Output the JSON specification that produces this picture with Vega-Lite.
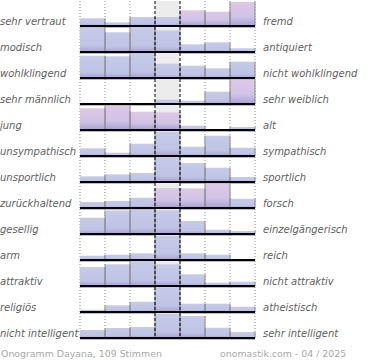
{
  "$schema": "https://vega.github.io/schema/vega-lite/v6.json",
  "padding": 0,
  "background": "white",
  "config": {"view": {"stroke": null}},
  "data": {"values": [
    {"r":1,"c":1,"v":7.7,"f":0,"a":"sehr vertraut","b":"fremd"},{"r":1,"c":2,"v":3.7,"f":0},{"r":1,"c":3,"v":9,"f":0},{"r":1,"c":4,"v":9,"f":0},{"r":1,"c":5,"v":15.7,"f":1},{"r":1,"c":6,"v":14.3,"f":1},{"r":1,"c":7,"v":24,"f":1},
    {"r":2,"c":1,"v":24.3,"f":0,"a":"modisch","b":"antiquiert"},{"r":2,"c":2,"v":19.7,"f":0},{"r":2,"c":3,"v":25,"f":0},{"r":2,"c":4,"v":21.7,"f":0},{"r":2,"c":5,"v":7.7,"f":0},{"r":2,"c":6,"v":9.7,"f":0},{"r":2,"c":7,"v":3.7,"f":0},
    {"r":3,"c":1,"v":22.3,"f":0,"a":"wohlklingend","b":"nicht wohlklingend"},{"r":3,"c":2,"v":21.7,"f":0},{"r":3,"c":3,"v":24.7,"f":0},{"r":3,"c":4,"v":14.3,"f":0},{"r":3,"c":5,"v":12.3,"f":0},{"r":3,"c":6,"v":9.7,"f":0},{"r":3,"c":7,"v":16.3,"f":0},
    {"r":4,"c":1,"v":0,"f":0,"a":"sehr männlich","b":"sehr weiblich"},{"r":4,"c":2,"v":0,"f":0},{"r":4,"c":3,"v":0,"f":0},{"r":4,"c":4,"v":4.3,"f":0},{"r":4,"c":5,"v":3.3,"f":0},{"r":4,"c":6,"v":12.3,"f":0},{"r":4,"c":7,"v":24.3,"f":1},
    {"r":5,"c":1,"v":21.7,"f":1,"a":"\u2005jung","b":"alt"},{"r":5,"c":2,"v":24,"f":1},{"r":5,"c":3,"v":18.3,"f":1},{"r":5,"c":4,"v":17.7,"f":1},{"r":5,"c":5,"v":4.3,"f":0},{"r":5,"c":6,"v":0,"f":0},{"r":5,"c":7,"v":3,"f":0},
    {"r":6,"c":1,"v":7.7,"f":0,"a":"unsympathisch","b":"sympathisch"},{"r":6,"c":2,"v":3.3,"f":0},{"r":6,"c":3,"v":12.3,"f":0},{"r":6,"c":4,"v":24.3,"f":0},{"r":6,"c":5,"v":9.3,"f":0},{"r":6,"c":6,"v":20.3,"f":0},{"r":6,"c":7,"v":8.3,"f":0},
    {"r":7,"c":1,"v":5.7,"f":0,"a":"unsportlich","b":"sportlich"},{"r":7,"c":2,"v":7.7,"f":0},{"r":7,"c":3,"v":9,"f":0},{"r":7,"c":4,"v":25,"f":0},{"r":7,"c":5,"v":19,"f":0},{"r":7,"c":6,"v":14.3,"f":0},{"r":7,"c":7,"v":5,"f":0},
    {"r":8,"c":1,"v":6,"f":0,"a":"zurückhaltend","b":"forsch"},{"r":8,"c":2,"v":7,"f":0},{"r":8,"c":3,"v":10.3,"f":0},{"r":8,"c":4,"v":20,"f":1},{"r":8,"c":5,"v":19.7,"f":1},{"r":8,"c":6,"v":24.3,"f":1},{"r":8,"c":7,"v":9.3,"f":0},
    {"r":9,"c":1,"v":16.3,"f":0,"a":"gesellig","b":"einzelgängerisch"},{"r":9,"c":2,"v":23.5,"f":0},{"r":9,"c":3,"v":24.3,"f":0},{"r":9,"c":4,"v":23.8,"f":0},{"r":9,"c":5,"v":13,"f":0},{"r":9,"c":6,"v":4.3,"f":0},{"r":9,"c":7,"v":3,"f":0},
    {"r":10,"c":1,"v":4.3,"f":0,"a":"arm","b":"reich"},{"r":10,"c":2,"v":5.3,"f":0},{"r":10,"c":3,"v":6.7,"f":0},{"r":10,"c":4,"v":24.3,"f":0},{"r":10,"c":5,"v":6.7,"f":0},{"r":10,"c":6,"v":5.3,"f":0},{"r":10,"c":7,"v":1,"f":0},
    {"r":11,"c":1,"v":19,"f":0,"a":"attraktiv","b":"nicht attraktiv"},{"r":11,"c":2,"v":21.7,"f":0},{"r":11,"c":3,"v":25,"f":0},{"r":11,"c":4,"v":21.7,"f":0},{"r":11,"c":5,"v":11.7,"f":0},{"r":11,"c":6,"v":3.3,"f":0},{"r":11,"c":7,"v":4.3,"f":0},
    {"r":12,"c":1,"v":2.3,"f":0,"a":"religiös","b":"atheistisch"},{"r":12,"c":2,"v":6.7,"f":0},{"r":12,"c":3,"v":10.3,"f":0},{"r":12,"c":4,"v":25,"f":0},{"r":12,"c":5,"v":8.3,"f":0},{"r":12,"c":6,"v":8.3,"f":0},{"r":12,"c":7,"v":5.3,"f":0},
    {"r":13,"c":1,"v":8,"f":0,"a":"nicht intelligent","b":"sehr intelligent"},{"r":13,"c":2,"v":10,"f":0},{"r":13,"c":3,"v":11,"f":0},{"r":13,"c":4,"v":24.3,"f":0},{"r":13,"c":5,"v":22,"f":0},{"r":13,"c":6,"v":10.3,"f":0},{"r":13,"c":7,"v":6,"f":0}
  ]},
  "facet": {"row": {"field": "r", "type": "ordinal", "header": {"labels": false}, "title": null}},
  "spacing": 0,
  "bounds": "flush",
  "spec": {
    "width": 175,
    "height": 26,
    "layer": [
      {
        "transform": [{"filter": "datum.c == 4"}],
        "mark": {"type": "rect", "color": "#ececec"},
        "encoding": {
          "x": {"field": "c", "type": "ordinal", "axis": null, "scale": {"paddingInner": 0, "paddingOuter": 0}},
          "y": {"datum": 25, "type": "quantitative", "axis": null, "scale": {"domain": [-1, 25], "nice": false, "zero": false}},
          "y2": {"datum": -1}
        }
      },
      {
        "transform": [{"filter": "datum.c == 1 || datum.c == 2 || datum.c == 3 || datum.c == 6 || datum.c == 7"}],
        "mark": {"type": "rule", "color": "#8c8c8c", "strokeDash": [1, 2], "strokeWidth": 1},
        "encoding": {"x": {"field": "c", "type": "ordinal", "bandPosition": 0, "axis": null}}
      },
      {
        "transform": [{"filter": "datum.c == 7"}],
        "mark": {"type": "rule", "color": "#8c8c8c", "strokeDash": [1, 2], "strokeWidth": 1},
        "encoding": {"x": {"field": "c", "type": "ordinal", "bandPosition": 1, "axis": null}}
      },
      {
        "transform": [{"filter": "datum.f == 0"}],
        "mark": {"type": "bar", "fill": {"gradient": "linear", "x1": 0, "y1": 0, "x2": 0, "y2": 1, "stops": [{"offset": 0, "color": "#c5cbe9"}, {"offset": 0.75, "color": "#bfc3e5"}, {"offset": 1, "color": "#ab9fd2"}]}},
        "encoding": {
          "x": {"field": "c", "type": "ordinal", "axis": null},
          "y": {"field": "v", "type": "quantitative", "axis": null}
        }
      },
      {
        "transform": [{"filter": "datum.f == 1"}],
        "mark": {"type": "bar", "fill": {"gradient": "linear", "x1": 0, "y1": 0, "x2": 0, "y2": 1, "stops": [{"offset": 0, "color": "#dfc7e7"}, {"offset": 0.6, "color": "#cfc4e6"}, {"offset": 1, "color": "#ab9fd2"}]}},
        "encoding": {
          "x": {"field": "c", "type": "ordinal", "axis": null},
          "y": {"field": "v", "type": "quantitative", "axis": null}
        }
      },
      {
        "mark": {"type": "rule", "color": "#8a8a8a", "strokeWidth": 1},
        "encoding": {
          "x": {"field": "c", "type": "ordinal", "bandPosition": 1, "axis": null},
          "y": {"field": "v", "type": "quantitative", "axis": null},
          "y2": {"datum": 0}
        }
      },
      {
        "transform": [{"filter": "datum.c > 1"}],
        "mark": {"type": "rule", "color": "#8a8a8a", "strokeWidth": 1},
        "encoding": {
          "x": {"field": "c", "type": "ordinal", "bandPosition": 0, "axis": null},
          "y": {"field": "v", "type": "quantitative", "axis": null},
          "y2": {"datum": 0}
        }
      },
      {
        "transform": [{"filter": "datum.c == 4"}],
        "mark": {"type": "rule", "color": "#000000", "strokeDash": [3, 2], "strokeWidth": 1},
        "encoding": {"x": {"field": "c", "type": "ordinal", "bandPosition": 0, "axis": null}}
      },
      {
        "transform": [{"filter": "datum.c == 4"}],
        "mark": {"type": "rule", "color": "#000000", "strokeDash": [3, 2], "strokeWidth": 1},
        "encoding": {"x": {"field": "c", "type": "ordinal", "bandPosition": 1, "axis": null}}
      },
      {
        "transform": [{"filter": "datum.c == 1"}],
        "mark": {"type": "rule", "color": "#a0a0a0", "strokeWidth": 1},
        "encoding": {"y": {"datum": -1.2, "type": "quantitative", "axis": null}}
      },
      {
        "transform": [{"filter": "datum.c == 1"}],
        "mark": {"type": "rule", "color": "#000000", "strokeWidth": 2},
        "encoding": {"y": {"datum": 0, "type": "quantitative", "axis": null}}
      },
      {
        "transform": [{"filter": "datum.c == 1"}],
        "mark": {"type": "text", "align": "left", "baseline": "alphabetic", "dx": -80, "dy": -1, "font": "DejaVu Sans", "fontStyle": "italic", "fontSize": 10, "color": "#606060"},
        "encoding": {
          "x": {"field": "c", "type": "ordinal", "bandPosition": 0, "axis": null},
          "y": {"datum": 0, "type": "quantitative", "axis": null},
          "text": {"field": "a"}
        }
      },
      {
        "transform": [{"filter": "datum.c == 1"}],
        "mark": {"type": "text", "align": "left", "baseline": "alphabetic", "dx": 183, "dy": -1, "font": "DejaVu Sans", "fontStyle": "italic", "fontSize": 10, "color": "#606060"},
        "encoding": {
          "x": {"field": "c", "type": "ordinal", "bandPosition": 0, "axis": null},
          "y": {"datum": 0, "type": "quantitative", "axis": null},
          "text": {"field": "b"}
        }
      },
      {
        "transform": [{"filter": "datum.c == 1 && datum.r == 13"}],
        "mark": {"type": "text", "align": "left", "baseline": "alphabetic", "dx": -79, "dy": 18, "font": "DejaVu Sans", "fontSize": 9.4, "color": "#a8a8a8"},
        "encoding": {
          "x": {"field": "c", "type": "ordinal", "bandPosition": 0, "axis": null},
          "y": {"datum": -1, "type": "quantitative", "axis": null},
          "text": {"value": "Onogramm Dayana, 109 Stimmen"}
        }
      },
      {
        "transform": [{"filter": "datum.c == 1 && datum.r == 13"}],
        "mark": {"type": "text", "align": "left", "baseline": "alphabetic", "dx": 140, "dy": 18, "font": "DejaVu Sans", "fontSize": 9.4, "color": "#a8a8a8"},
        "encoding": {
          "x": {"field": "c", "type": "ordinal", "bandPosition": 0, "axis": null},
          "y": {"datum": -1, "type": "quantitative", "axis": null},
          "text": {"value": "onomastik.com - 04 / 2025"}
        }
      }
    ]
  }
}
